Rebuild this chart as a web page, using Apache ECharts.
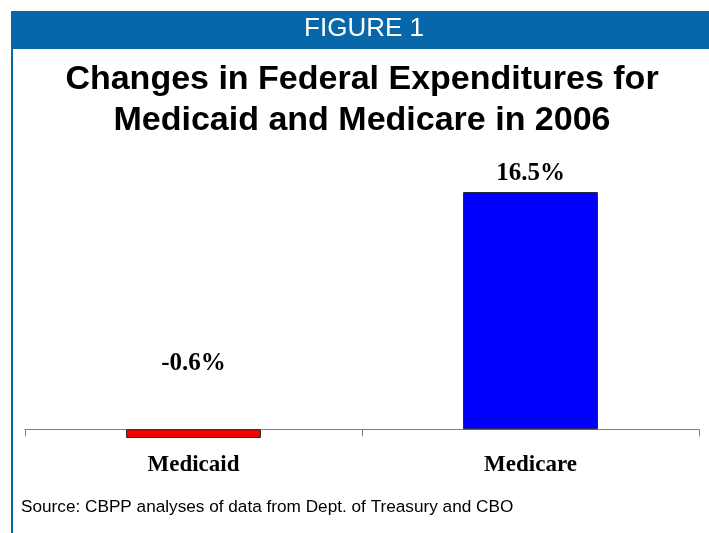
<!DOCTYPE html>
<html>
<head>
<meta charset="utf-8">
<script src="https://cdn.jsdelivr.net/npm/echarts@6/dist/echarts.min.js"></script>
<style>
  html, body { margin: 0; padding: 0; background: #ffffff; }
  #chart { width: 709px; height: 533px; }
</style>
</head>
<body>
<div id="chart"></div>
<script>
// Program names and their 2006 change in federal spending (percent)
const categories = ['Medicaid', 'Medicare'];
const changes = [-0.6, 16.5];
const barColors = ['#ff0000', '#0000ff'];

const figureLabel = 'FIGURE 1';
const titleLines = ['Changes in Federal Expenditures for', 'Medicaid and Medicare in 2006'];
const sourceNote = 'Source: CBPP analyses of data from Dept. of Treasury and CBO';

const headerBlue = '#0767a8';

const chart = echarts.init(document.getElementById('chart'), null, { renderer: 'canvas' });

const barData = changes.map((v, i) => {
  const item = { value: v, itemStyle: { color: barColors[i] } };
  if (v < 0) {
    // the negative bar's label sits well above the baseline
    item.label = { offset: [0, -47] };
  }
  return item;
});

chart.setOption({
  animation: false,
  backgroundColor: '#ffffff',
  graphic: [
    { type: 'rect', shape: { x: 11, y: 11, width: 698, height: 38 }, style: { fill: headerBlue }, silent: true },
    { type: 'rect', shape: { x: 11, y: 49, width: 2, height: 484 }, style: { fill: headerBlue }, silent: true },
    {
      type: 'text', x: 364, y: 29,
      style: {
        text: figureLabel, fill: '#ffffff', font: '26px "Liberation Sans", Arial, sans-serif',
        textAlign: 'center', textVerticalAlign: 'middle'
      }
    },
    {
      type: 'text', x: 362, y: 80,
      style: {
        text: titleLines[0], fill: '#000000', font: 'bold 34px "Liberation Sans", Arial, sans-serif',
        textAlign: 'center', textVerticalAlign: 'middle'
      }
    },
    {
      type: 'text', x: 362, y: 121,
      style: {
        text: titleLines[1], fill: '#000000', font: 'bold 34px "Liberation Sans", Arial, sans-serif',
        textAlign: 'center', textVerticalAlign: 'middle'
      }
    },
    {
      type: 'text', x: 21, y: 507,
      style: {
        text: sourceNote, fill: '#000000', font: '17.2px "Liberation Sans", Arial, sans-serif',
        textAlign: 'left', textVerticalAlign: 'middle'
      }
    }
  ],
  grid: { left: 25, right: 10, top: 184.9, height: 258.8, containLabel: false },
  xAxis: {
    type: 'category',
    data: categories,
    axisLine: { onZero: true, lineStyle: { color: '#808080', width: 1 } },
    axisTick: { show: true, inside: false, length: 7, lineStyle: { color: '#808080' } },
    axisLabel: {
      margin: 10, color: '#000000', fontSize: 23, fontWeight: 'bold',
      fontFamily: '"Liberation Serif", "Times New Roman", serif'
    },
    splitLine: { show: false }
  },
  yAxis: {
    type: 'value',
    min: -1,
    max: 17,
    show: false,
    splitLine: { show: false }
  },
  series: [{
    type: 'bar',
    data: barData,
    barWidth: '40%',
    clip: false,
    itemStyle: { borderColor: '#202020', borderWidth: 1 },
    label: {
      show: true,
      position: 'top',
      distance: 6,
      color: '#000000',
      fontSize: 25,
      fontWeight: 'bold',
      fontFamily: '"Liberation Serif", "Times New Roman", serif',
      formatter: p => p.value.toFixed(1) + '%'
    }
  }]
});
</script>
</body>
</html>
